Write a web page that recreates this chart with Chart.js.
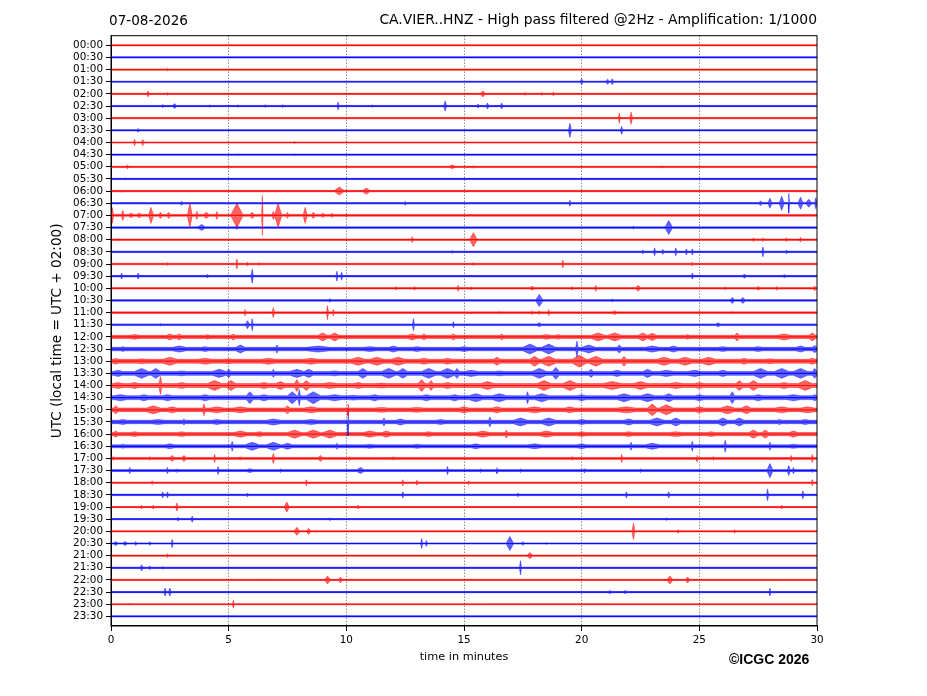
<!DOCTYPE html>
<html><head><meta charset="utf-8">
<script src="https://cdn.jsdelivr.net/npm/chart.js@4.4.1/dist/chart.umd.min.js"></script>
<style>
html,body{margin:0;padding:0;background:#fff;}
#wrap{position:relative;width:927px;height:696px;}
#date{position:absolute;left:109px;top:12px;font:13.6px/16px "DejaVu Sans";color:#000;white-space:nowrap;}
#copy{position:absolute;left:729px;top:651px;font:bold 14px/16px "Liberation Sans";color:#000;white-space:nowrap;}
</style></head><body>
<div id="wrap"><canvas id="c" width="927" height="696"></canvas>
<div id="date">07-08-2026</div><div id="copy">©ICGC 2026</div></div>
<script>
const chartTitle = 'CA.VIER..HNZ - High pass filtered @2Hz - Amplification: 1/1000';
const yAxisTitle = 'UTC (local time = UTC + 02:00)';
const xAxisTitle = 'time in minutes';
const rowLabels = ['00:00','00:30','01:00','01:30','02:00','02:30','03:00','03:30','04:00','04:30','05:00','05:30',
 '06:00','06:30','07:00','07:30','08:00','08:30','09:00','09:30','10:00','10:30','11:00','11:30',
 '12:00','12:30','13:00','13:30','14:00','14:30','15:00','15:30','16:00','16:30','17:00','17:30',
 '18:00','18:30','19:00','19:30','20:00','20:30','21:00','21:30','22:00','22:30','23:00','23:30'];
const xTicks = [0,5,10,15,20,25,30];
const traceColors = ['255,0,0','0,0,255'];
// background noise half-amplitude per row (row units)
const baseNoise = [0.05,0.05,0.05,0.05,0.05,0.05,0.05,0.05,0.05,0.05,0.05,0.05,
 0.06,0.06,0.08,0.06,0.06,0.06,0.06,0.06,0.06,0.06,0.07,0.07,
 0.13,0.14,0.16,0.16,0.16,0.16,0.15,0.14,0.13,0.12,0.08,0.08,
 0.06,0.06,0.05,0.05,0.05,0.05,0.05,0.05,0.05,0.05,0.05,0.05];
// events per row: [minute, half-amplitude (row units), half-width (minutes)]
const r0000 = [];
const r0030 = [];
const r0100 = [[2.4,0.12,0.04]];
const r0130 = [[20.0,0.25,0.05],[21.1,0.2,0.08],[21.3,0.25,0.05]];
const r0200 = [[1.57,0.25,0.05],[2.4,0.12,0.04],[15.8,0.25,0.1],[17.6,0.12,0.05],[18.3,0.12,0.05],[18.8,0.16,0.05]];
const r0230 = [[2.2,0.12,0.05],[2.7,0.2,0.08],[4.2,0.1,0.04],[5.4,0.1,0.04],[6.55,0.12,0.04],[7.3,0.12,0.04],[9.65,0.33,0.04],[11.1,0.1,0.04],[14.2,0.41,0.06],[15.6,0.16,0.05],[16.0,0.25,0.05],[16.6,0.25,0.05]];
const r0300 = [[21.6,0.41,0.04],[22.1,0.5,0.06]];
const r0330 = [[1.15,0.16,0.04],[19.5,0.58,0.06],[21.7,0.33,0.05]];
const r0400 = [[1.0,0.25,0.05],[1.35,0.25,0.06],[7.8,0.1,0.05]];
const r0430 = [[5.4,0.08,0.04],[7.8,0.08,0.04]];
const r0500 = [[0.7,0.16,0.05],[14.5,0.16,0.12],[15.4,0.12,0.04],[23.4,0.1,0.04]];
const r0530 = [[0.6,0.08,0.04]];
const r0600 = [[0.45,0.1,0.04],[9.7,0.33,0.2],[10.85,0.25,0.15]];
const r0630 = [[3.0,0.16,0.06],[12.5,0.16,0.04],[19.5,0.25,0.04],[27.6,0.2,0.06],[28.0,0.41,0.08],[28.5,0.58,0.1],[28.8,0.82,0.03],[29.3,0.5,0.1],[29.65,0.33,0.12],[29.95,0.45,0.05]];
const r0700 = [[0.05,0.66,0.06],[0.5,0.41,0.06],[0.85,0.2,0.1],[1.2,0.2,0.1],[1.7,0.66,0.1],[2.1,0.25,0.08],[2.45,0.25,0.08],[3.35,0.99,0.1],[3.65,0.33,0.05],[4.05,0.25,0.12],[4.5,0.33,0.05],[5.35,0.99,0.25],[6.0,0.25,0.1],[6.43,1.64,0.03],[6.9,0.33,0.06],[7.1,0.99,0.15],[7.5,0.25,0.05],[8.25,0.66,0.08],[8.6,0.25,0.08],[9.0,0.2,0.08],[9.4,0.2,0.05],[10.0,0.16,0.04]];
const r0730 = [[3.85,0.25,0.15],[5.35,0.16,0.05],[22.2,0.12,0.05],[23.7,0.58,0.15]];
const r0800 = [[0.3,0.1,0.04],[12.8,0.25,0.04],[15.4,0.58,0.15],[27.3,0.16,0.05],[27.7,0.16,0.05],[28.7,0.16,0.05],[29.3,0.2,0.04]];
const r0830 = [[14.5,0.12,0.04],[22.6,0.16,0.05],[23.1,0.33,0.04],[23.45,0.2,0.05],[24.0,0.33,0.04],[24.45,0.25,0.04],[24.7,0.25,0.04],[27.7,0.41,0.04],[28.7,0.16,0.04]];
const r0900 = [[2.4,0.12,0.05],[5.35,0.41,0.04],[5.8,0.16,0.05],[6.3,0.12,0.05],[15.4,0.12,0.05],[19.2,0.33,0.04],[24.7,0.16,0.04]];
const r0930 = [[0.45,0.25,0.04],[1.15,0.25,0.04],[4.1,0.16,0.04],[6.0,0.58,0.05],[9.6,0.41,0.04],[9.8,0.33,0.04],[24.7,0.25,0.04],[26.9,0.16,0.04],[28.6,0.12,0.04]];
const r1000 = [[12.1,0.16,0.04],[12.9,0.16,0.04],[14.75,0.25,0.04],[15.3,0.12,0.05],[17.9,0.16,0.1],[19.6,0.16,0.04],[20.6,0.25,0.04],[22.4,0.25,0.1],[26.1,0.12,0.05],[27.5,0.16,0.08],[28.3,0.16,0.05],[29.9,0.2,0.06]];
const r1030 = [[9.3,0.16,0.04],[18.2,0.5,0.15],[21.3,0.12,0.05],[26.4,0.25,0.1],[26.85,0.25,0.1]];
const r1100 = [[5.7,0.25,0.04],[6.9,0.41,0.05],[9.2,0.58,0.04],[9.45,0.25,0.05],[16.5,0.12,0.05],[17.9,0.16,0.05],[18.2,0.16,0.05],[18.6,0.25,0.04],[21.4,0.16,0.1],[25.0,0.16,0.04],[26.4,0.12,0.04]];
const r1130 = [[2.1,0.1,0.05],[5.8,0.33,0.08],[6.0,0.49,0.04],[12.85,0.49,0.04],[14.55,0.25,0.04],[18.2,0.16,0.1],[25.8,0.16,0.1]];
const r1200 = [[1.0,0.2,0.2],[2.5,0.25,0.15],[2.9,0.25,0.1],[4.1,0.2,0.1],[5.2,0.25,0.1],[9.0,0.33,0.2],[9.5,0.33,0.2],[12.8,0.25,0.2],[13.3,0.25,0.1],[14.55,0.25,0.1],[16.6,0.25,0.08],[18.5,0.2,0.2],[19.0,0.2,0.1],[20.7,0.33,0.3],[21.4,0.33,0.3],[22.6,0.33,0.2],[23.0,0.3,0.2],[24.5,0.2,0.1],[26.6,0.33,0.1],[28.6,0.25,0.3],[29.8,0.33,0.15]];
const r1230 = [[0.5,0.2,0.1],[2.9,0.25,0.3],[4.0,0.2,0.15],[5.5,0.33,0.2],[7.05,0.33,0.05],[8.8,0.25,0.5],[11.0,0.2,0.3],[12.0,0.25,0.2],[13.0,0.2,0.2],[15.0,0.2,0.2],[17.8,0.41,0.3],[18.6,0.41,0.3],[19.8,0.66,0.05],[20.3,0.33,0.3],[21.6,0.33,0.1],[23.0,0.25,0.3],[23.9,0.25,0.2],[26.0,0.2,0.2],[27.5,0.2,0.2],[29.3,0.25,0.2],[29.9,0.3,0.1]];
const r1300 = [[0.2,0.25,0.1],[1.3,0.2,0.2],[2.5,0.33,0.3],[4.0,0.25,0.3],[5.0,0.2,0.2],[6.7,0.25,0.3],[8.5,0.25,0.3],[10.5,0.33,0.3],[11.3,0.33,0.3],[12.2,0.33,0.3],[13.3,0.25,0.2],[14.3,0.25,0.2],[16.4,0.33,0.15],[18.0,0.41,0.2],[18.6,0.41,0.3],[19.9,0.49,0.3],[20.6,0.41,0.3],[21.8,0.41,0.1],[23.5,0.33,0.3],[24.4,0.33,0.3],[25.4,0.33,0.3],[26.9,0.25,0.15],[28.0,0.2,0.2],[29.8,0.25,0.15]];
const r1330 = [[0.3,0.25,0.2],[1.3,0.41,0.3],[1.9,0.41,0.2],[3.0,0.2,0.2],[4.6,0.33,0.3],[5.0,0.33,0.1],[6.9,0.33,0.05],[7.9,0.33,0.3],[8.4,0.33,0.2],[9.5,0.2,0.2],[10.7,0.41,0.2],[11.8,0.41,0.3],[12.4,0.41,0.2],[13.5,0.41,0.3],[14.3,0.41,0.3],[14.7,0.41,0.1],[15.3,0.25,0.3],[16.5,0.2,0.2],[18.2,0.41,0.3],[18.9,0.49,0.15],[20.4,0.33,0.1],[21.5,0.25,0.2],[22.8,0.33,0.2],[23.6,0.25,0.3],[24.8,0.25,0.3],[26.0,0.25,0.2],[27.6,0.41,0.3],[28.5,0.41,0.3],[29.3,0.41,0.3],[29.9,0.41,0.1]];
const r1400 = [[0.3,0.25,0.2],[1.0,0.25,0.2],[2.1,0.74,0.06],[3.0,0.25,0.2],[4.4,0.41,0.3],[5.1,0.41,0.2],[6.5,0.25,0.2],[7.2,0.33,0.2],[7.9,0.49,0.1],[8.3,0.41,0.15],[9.3,0.25,0.3],[10.5,0.25,0.2],[11.5,0.2,0.3],[13.2,0.49,0.15],[13.6,0.41,0.1],[14.3,0.25,0.2],[16.0,0.33,0.3],[18.4,0.41,0.3],[19.5,0.41,0.3],[21.3,0.33,0.4],[22.5,0.33,0.3],[24.0,0.25,0.3],[25.0,0.25,0.2],[26.7,0.41,0.15],[27.3,0.41,0.2],[28.6,0.25,0.2],[29.5,0.41,0.3]];
const r1430 = [[0.4,0.25,0.3],[1.4,0.25,0.2],[2.4,0.25,0.2],[4.0,0.25,0.2],[5.9,0.49,0.15],[6.5,0.25,0.2],[7.7,0.49,0.2],[8.0,0.66,0.05],[8.6,0.49,0.3],[9.5,0.25,0.3],[10.3,0.2,0.2],[11.2,0.25,0.2],[13.4,0.25,0.2],[14.6,0.25,0.2],[15.5,0.33,0.3],[16.5,0.33,0.3],[17.7,0.49,0.05],[18.3,0.33,0.3],[20.0,0.25,0.2],[21.8,0.33,0.3],[22.8,0.33,0.3],[23.7,0.33,0.2],[25.0,0.25,0.2],[26.4,0.49,0.1],[27.5,0.25,0.2],[29.0,0.25,0.3],[29.9,0.25,0.1]];
const r1500 = [[0.2,0.33,0.1],[1.8,0.33,0.3],[2.6,0.25,0.2],[3.95,0.49,0.05],[4.5,0.25,0.3],[5.5,0.25,0.3],[7.5,0.33,0.1],[8.5,0.25,0.3],[10.07,0.5,0.03],[11.5,0.2,0.3],[13.0,0.2,0.3],[15.0,0.25,0.2],[16.4,0.25,0.2],[18.0,0.25,0.3],[19.5,0.25,0.2],[21.9,0.25,0.4],[23.0,0.49,0.2],[23.6,0.41,0.3],[25.0,0.25,0.2],[26.2,0.33,0.3],[27.0,0.33,0.2],[28.5,0.25,0.3],[29.6,0.25,0.3]];
const r1530 = [[0.5,0.2,0.2],[2.0,0.2,0.3],[3.1,0.25,0.05],[4.5,0.2,0.2],[6.9,0.25,0.3],[8.5,0.2,0.3],[10.07,1.15,0.03],[11.6,0.33,0.05],[12.3,0.25,0.2],[14.0,0.2,0.2],[16.1,0.41,0.05],[17.4,0.33,0.3],[18.6,0.33,0.3],[20.0,0.2,0.2],[22.0,0.25,0.2],[23.2,0.33,0.3],[24.0,0.33,0.2],[26.0,0.33,0.2],[26.7,0.33,0.2],[28.4,0.25,0.05],[29.5,0.2,0.2]];
const r1600 = [[0.2,0.25,0.1],[1.0,0.2,0.2],[3.0,0.2,0.2],[5.5,0.25,0.3],[6.3,0.2,0.2],[7.8,0.33,0.3],[8.6,0.33,0.3],[9.3,0.33,0.3],[11.0,0.25,0.3],[11.7,0.25,0.2],[13.5,0.2,0.2],[15.8,0.25,0.3],[16.8,0.33,0.05],[18.5,0.25,0.3],[20.0,0.2,0.2],[22.0,0.2,0.2],[24.0,0.2,0.3],[25.5,0.2,0.2],[27.3,0.33,0.2],[27.8,0.33,0.15],[29.0,0.25,0.2]];
const r1630 = [[0.5,0.16,0.1],[2.5,0.2,0.2],[5.15,0.41,0.04],[6.0,0.33,0.3],[6.9,0.33,0.3],[7.5,0.25,0.2],[9.6,0.25,0.04],[11.0,0.16,0.2],[13.0,0.16,0.2],[15.5,0.2,0.2],[18.0,0.2,0.3],[20.0,0.2,0.2],[22.1,0.33,0.04],[23.0,0.25,0.3],[24.7,0.41,0.04],[26.1,0.49,0.04],[28.0,0.33,0.04],[29.0,0.16,0.2]];
const r1700 = [[0.1,0.16,0.04],[1.65,0.16,0.04],[2.6,0.25,0.1],[3.1,0.25,0.1],[4.4,0.33,0.04],[5.5,0.12,0.1],[6.9,0.41,0.05],[8.9,0.25,0.1],[10.15,0.16,0.04],[12.0,0.12,0.1],[19.6,0.16,0.05],[21.7,0.33,0.04],[24.9,0.25,0.04],[25.6,0.16,0.05],[28.9,0.25,0.04],[29.8,0.33,0.04]];
const r1730 = [[0.8,0.25,0.04],[2.4,0.25,0.04],[2.8,0.16,0.04],[4.55,0.33,0.04],[5.9,0.16,0.15],[7.2,0.16,0.04],[10.6,0.25,0.15],[14.3,0.33,0.04],[15.7,0.16,0.04],[16.4,0.25,0.04],[17.4,0.16,0.04],[20.1,0.16,0.04],[22.5,0.16,0.04],[28.0,0.58,0.12],[28.8,0.41,0.06],[29.0,0.25,0.05],[29.8,0.16,0.04]];
const r1800 = [[1.75,0.16,0.04],[8.3,0.25,0.04],[12.4,0.25,0.04],[13.0,0.2,0.05],[15.2,0.16,0.04],[29.8,0.25,0.04]];
const r1830 = [[2.2,0.25,0.04],[2.4,0.25,0.04],[5.8,0.16,0.04],[12.4,0.25,0.04],[17.3,0.16,0.04],[21.9,0.25,0.04],[23.7,0.25,0.04],[27.9,0.49,0.04],[29.4,0.33,0.04]];
const r1900 = [[1.3,0.16,0.04],[1.8,0.16,0.04],[2.8,0.33,0.05],[7.47,0.41,0.1],[10.5,0.16,0.04],[28.5,0.16,0.04]];
const r1930 = [[2.85,0.16,0.04],[3.45,0.25,0.05],[9.3,0.12,0.04],[23.6,0.12,0.04]];
const r2000 = [[7.9,0.33,0.12],[8.4,0.25,0.08],[22.2,0.66,0.06],[24.1,0.16,0.04],[26.5,0.16,0.04]];
const r2030 = [[0.2,0.16,0.1],[0.6,0.16,0.1],[1.05,0.16,0.05],[1.65,0.16,0.04],[2.6,0.33,0.04],[13.2,0.41,0.04],[13.4,0.25,0.04],[16.95,0.58,0.15],[17.5,0.16,0.05],[18.5,0.08,0.04]];
const r2100 = [[2.4,0.16,0.04],[17.8,0.25,0.12]];
const r2130 = [[1.3,0.25,0.06],[1.65,0.16,0.04],[2.2,0.12,0.04],[17.4,0.58,0.04]];
const r2200 = [[6.5,0.08,0.04],[9.2,0.33,0.12],[9.75,0.25,0.06],[23.75,0.33,0.12],[24.5,0.25,0.08]];
const r2230 = [[2.3,0.33,0.05],[2.5,0.33,0.05],[21.2,0.16,0.04],[21.85,0.16,0.04],[28.0,0.33,0.04]];
const r2300 = [[0.8,0.08,0.04],[5.2,0.33,0.04]];
const r2330 = [];
const rowEvents = [r0000,r0030,r0100,r0130,r0200,r0230,r0300,r0330,r0400,r0430,r0500,r0530,
 r0600,r0630,r0700,r0730,r0800,r0830,r0900,r0930,r1000,r1030,r1100,r1130,
 r1200,r1230,r1300,r1330,r1400,r1430,r1500,r1530,r1600,r1630,r1700,r1730,
 r1800,r1830,r1900,r1930,r2000,r2030,r2100,r2130,r2200,r2230,r2300,r2330];

function envelope(r, sign) {
  const base = baseNoise[r];
  const evs = rowEvents[r].slice().sort((a, b) => a[0] - b[0]);
  const pts = [{x: 0, y: r + sign * base}];
  let prev = 0;
  for (const [c, a, w] of evs) {
    const s = Math.max(c - w, prev);
    const cc = Math.max(c, s);
    const e = Math.max(Math.min(c + w, 30), cc);
    pts.push({x: s, y: r + sign * base}, {x: cc, y: r + sign * a}, {x: e, y: r + sign * base});
    prev = e;
  }
  pts.push({x: 30, y: r + sign * base});
  return pts;
}

const datasets = [];
rowLabels.forEach((lab, r) => {
  const col = traceColors[r % 2];
  [-1, 1].forEach(sign => {
    datasets.push({
      label: lab,
      data: envelope(r, sign),
      borderColor: 'rgba(' + col + ',0.7)',
      backgroundColor: 'rgba(' + col + ',0.62)',
      borderWidth: 0.6,
      pointRadius: 0,
      tension: 0,
      fill: {value: r}
    });
  });
  // trace core line along the row baseline
  datasets.push({
    label: lab,
    data: [{x: 0, y: r}, {x: 30, y: r}],
    borderColor: 'rgba(' + col + ',0.9)',
    borderWidth: 1.2,
    pointRadius: 0,
    fill: false
  });
});

const frame = {
  id: 'frame',
  afterDraw(chart) {
    const {ctx, chartArea: a} = chart;
    ctx.save();
    ctx.strokeStyle = '#000';
    ctx.lineWidth = 1;
    ctx.strokeRect(a.left, a.top, a.right - a.left, a.bottom - a.top);
    ctx.restore();
  }
};

new Chart(document.getElementById('c'), {
  type: 'line',
  data: {datasets},
  plugins: [frame],
  options: {
    responsive: false,
    animation: false,
    events: [],
    layout: {padding: {left: 45, right: 110, top: 0, bottom: 28}},
    plugins: {
      legend: {display: false},
      tooltip: {enabled: false},
      title: {display: true, text: chartTitle, align: 'end', color: '#000',
        font: {family: 'DejaVu Sans', size: 13.9, weight: 'normal'}, padding: {top: 12, bottom: 7}}
    },
    scales: {
      x: {
        type: 'linear', min: 0, max: 30,
        afterBuildTicks: s => { s.ticks = xTicks.map(v => ({value: v})); },
        afterFit: s => { s.height = 42; },
        ticks: {color: '#000', font: {family: 'DejaVu Sans', size: 10.4}, padding: 3, maxRotation: 0},
        grid: {
          color: c => (c.tick && (c.tick.value === 0 || c.tick.value === 30)) ? 'rgba(0,0,0,0)' : 'rgba(0,0,0,0.85)',
          lineWidth: 0.8, tickColor: '#000', tickLength: 5, tickWidth: 1
        },
        border: {display: true, color: '#000', width: 1, dash: [1, 2]},
        title: {display: true, text: xAxisTitle, color: '#000', font: {family: 'DejaVu Sans', size: 11.3}, padding: {top: 4, bottom: 4}}
      },
      y: {
        type: 'linear', min: -0.79, max: 47.79, reverse: true,
        afterBuildTicks: s => { s.ticks = rowLabels.map((_, i) => ({value: i})); },
        afterFit: s => { s.width = 66; },
        ticks: {autoSkip: false, color: '#000', font: {family: 'DejaVu Sans', size: 10.4}, padding: 3,
          callback: v => rowLabels[v] !== undefined ? rowLabels[v] : ''},
        grid: {drawOnChartArea: false, drawTicks: true, tickLength: 5, tickColor: '#000', tickWidth: 1},
        border: {display: true, color: '#000', width: 1},
        title: {display: true, text: yAxisTitle, color: '#000', font: {family: 'DejaVu Sans', size: 13.6}, padding: {top: 4, bottom: 4}}
      }
    }
  }
});
</script>
</body></html>
